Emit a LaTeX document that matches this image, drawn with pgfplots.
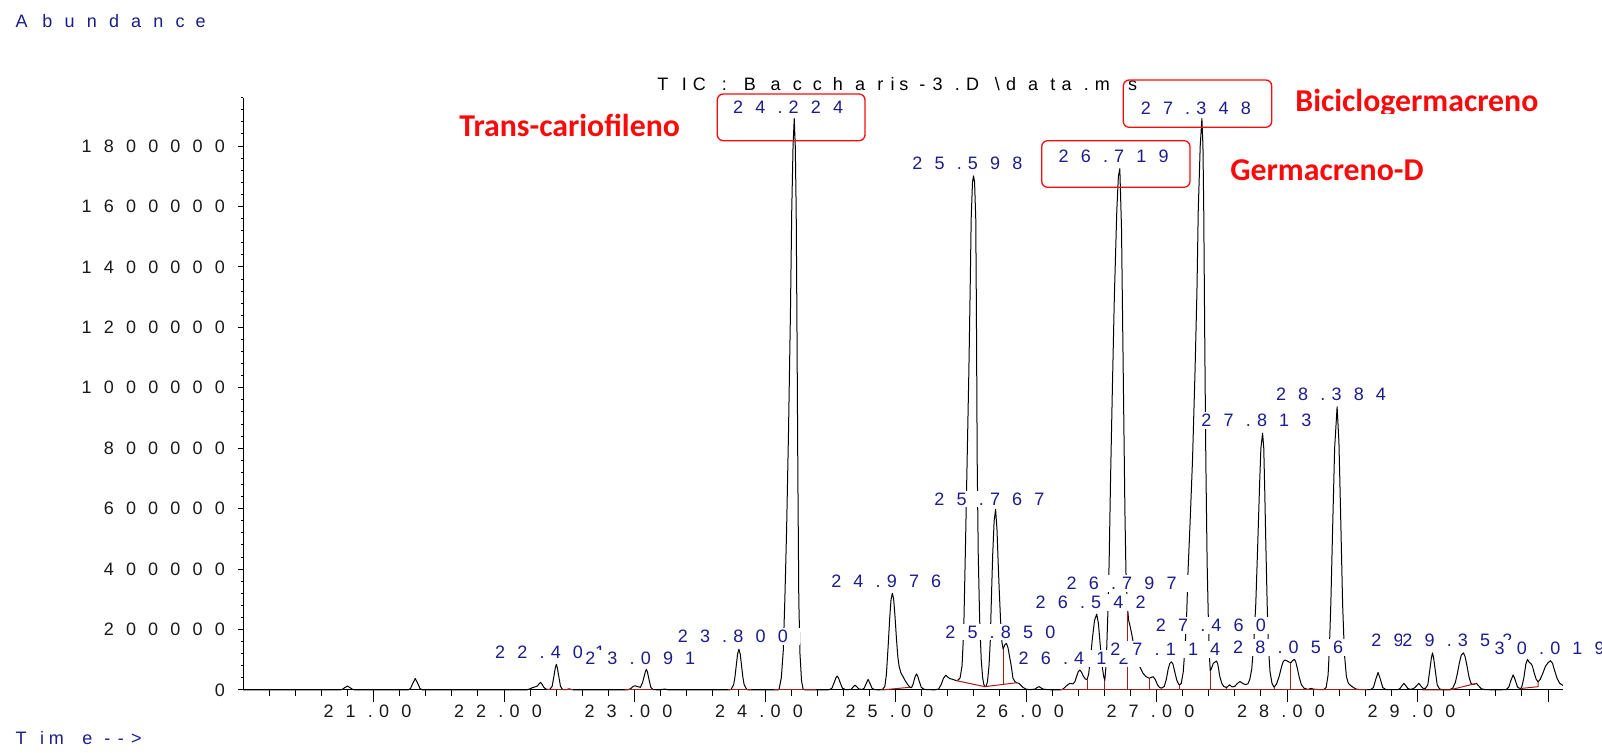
\documentclass[border=0pt]{standalone}
\usepackage{fontspec}
\setmainfont{Liberation Sans}
\newfontfamily\carlito{Carlito}
\usepackage{pgfplots}
\pgfplotsset{compat=1.18}

\definecolor{navy}{RGB}{28,28,140}
\definecolor{intred}{RGB}{170,25,25}
\definecolor{annred}{RGB}{250,10,10}
\definecolor{ticktext}{RGB}{25,25,25}

% letter-spaced text: every character gets a cell 2.22 times its own width
\newlength\spw
\def\spk{2.22}
\def\spacedend{\spacedend}
\def\spaced#1{\spacedloop#1\spacedend}
\def\spacedloop#1{\ifx#1\spacedend\else\settowidth\spw{#1}\makebox[\spk\spw][l]{#1}\expandafter\spacedloop\fi}
\newcommand\lblfont{\fontsize{9pt}{10pt}\selectfont}

\tikzset{pk/.style={font=\lblfont, text=navy, fill=white, inner xsep=0pt, inner ysep=1pt, anchor=base}}

\begin{document}
\begin{tikzpicture}
\useasboundingbox (0,0) rectangle (801pt,376.5pt);
\begin{axis}[
  at={(121.5pt,31.5pt)}, anchor=south west,
  scale only axis, width=660pt, height=296.15pt,
  xmin=20, xmax=30.115, ymin=0, ymax=1960,
  axis x line*=bottom, axis y line*=left,
  axis line style={-, line width=0.5pt, black},
  tick align=outside,
  xtick={21,22,23,24,25,26,27,28,29,30},
  xticklabels={\spaced{21.00},\spaced{22.00},\spaced{23.00},\spaced{24.00},\spaced{25.00},\spaced{26.00},\spaced{27.00},\spaced{28.00},\spaced{29.00},{}},
  minor xtick={20.2,20.4,...,30.0},
  ytick={0,200,...,1800},
  yticklabels={\spaced{0},\spaced{200000},\spaced{400000},\spaced{600000},\spaced{800000},\spaced{1000000},\spaced{1200000},\spaced{1400000},\spaced{1600000},\spaced{1800000}},
  minor ytick={40,80,...,1960},
  xtick style={line width=0.5pt, black, /pgfplots/major tick length=6pt, /pgfplots/minor tick length=3pt},
  ytick style={line width=0.5pt, black, /pgfplots/major tick length=2.5pt, /pgfplots/minor tick length=1.25pt},
  xticklabel style={font=\lblfont, text=ticktext, anchor=north, inner sep=0pt, yshift=-3pt},
  yticklabel style={font=\lblfont, text=ticktext, anchor=east, inner sep=0pt, xshift=1.55pt},
  clip=false,
]
% total ion chromatogram (abundance in thousands of counts)
\addplot[black, line width=0.5pt, line join=round] coordinates {
(20.00,0) (20.74,0) (20.76,1.8) (20.78,7.9) (20.80,13) (20.82,7.9) (20.84,1.8) (20.86,0)
(21.266,0) (21.284,5.1) (21.302,23) (21.32,38) (21.338,23) (21.356,5.1) (21.374,0)
(22.17,0) (22.20,4) (22.22,8) (22.236,10) (22.255,13) (22.268,20) (22.28,25) (22.292,19) (22.305,9) (22.32,3) (22.35,1.5)
(22.369,12) (22.385,52) (22.393,73) (22.401,85) (22.409,73) (22.417,52) (22.433,12) (22.449,1.5) (22.48,1) (22.50,4) (22.52,1) (22.56,0)
(22.94,0) (22.97,4) (22.99,12) (23.005,14) (23.025,11) (23.045,9) (23.062,25) (23.074,45) (23.083,60) (23.091,68) (23.099,60) (23.108,41) (23.125,9) (23.142,1) (23.20,0.5) (23.215,2) (23.23,3) (23.245,2) (23.26,0)
(23.72,0) (23.74,1.5) (23.76,18) (23.77,44) (23.78,82) (23.79,119) (23.80,135) (23.81,119) (23.82,82) (23.83,44) (23.84,18) (23.86,1.5) (23.88,0)
(24.10,0) (24.108,3) (24.125,40) (24.14,130) (24.152,298) (24.165,520) (24.18,850) (24.195,1250) (24.205,1588) (24.215,1800) (24.224,1891) (24.232,1800) (24.239,1588) (24.245,1200) (24.252,700) (24.259,298) (24.268,120) (24.28,30) (24.292,3) (24.31,0)
(24.45,0) (24.493,1) (24.513,6) (24.533,28) (24.543,40) (24.553,46) (24.563,40) (24.573,28) (24.593,6) (24.62,1) (24.66,2) (24.675,10) (24.69,16) (24.705,10) (24.72,3) (24.745,2) (24.76,6) (24.775,21) (24.79,35) (24.805,21) (24.82,6) (24.84,1) (24.88,0.5) (24.90,2)
(24.918,11) (24.93,50) (24.943,140) (24.956,240) (24.966,300) (24.976,320) (24.986,300) (24.996,245) (25.008,165) (25.018,110) (25.028,77) (25.042,56) (25.058,44) (25.075,30) (25.097,16) (25.112,9) (25.123,8)
(25.134,18) (25.143,33) (25.152,46) (25.161,53) (25.170,46) (25.179,33) (25.197,9) (25.22,2) (25.26,1) (25.30,0.5)
(25.33,3) (25.35,18) (25.367,38) (25.385,49) (25.40,43) (25.415,38) (25.44,35) (25.465,31) (25.48,33) (25.495,40) (25.51,80) (25.523,200) (25.535,450) (25.549,761) (25.562,1050) (25.572,1320) (25.58,1560) (25.59,1680) (25.598,1701) (25.606,1680) (25.615,1560) (25.62,1250) (25.626,761) (25.634,450) (25.645,230) (25.657,100) (25.668,40) (25.677,18) (25.685,11)
(25.694,12) (25.705,28) (25.717,82) (25.726,160) (25.736,320) (25.745,450) (25.756,560) (25.767,598) (25.778,529) (25.786,430) (25.795,330) (25.805,232) (25.815,160) (25.825,135) (25.838,150) (25.850,154) (25.862,140) (25.875,108) (25.885,85) (25.90,39) (25.915,28) (25.927,24) (25.947,22) (25.962,15) (25.978,8) (26.00,3) (26.03,1) (26.07,3) (26.085,8) (26.10,11) (26.115,7) (26.13,3) (26.17,1) (26.25,0)
(26.26,0) (26.28,2) (26.297,8) (26.31,14) (26.336,22) (26.36,20) (26.375,28) (26.39,48) (26.40,60) (26.412,66) (26.424,60) (26.44,45) (26.455,36) (26.468,35) (26.48,52) (26.495,110) (26.51,175) (26.525,230) (26.542,251) (26.555,220) (26.57,143) (26.583,80) (26.596,44) (26.604,31)
(26.615,90) (26.627,250) (26.637,420) (26.648,700) (26.662,1000) (26.677,1300) (26.696,1588) (26.708,1700) (26.719,1725) (26.732,1525) (26.745,1055) (26.758,590) (26.766,390) (26.775,290) (26.786,232) (26.797,212) (26.808,190) (26.825,150) (26.847,110) (26.87,78) (26.897,55) (26.92,44) (26.943,39) (26.958,41) (26.974,44) (26.99,35) (27.01,15) (27.025,8) (27.038,6)
(27.06,12) (27.075,35) (27.09,70) (27.102,88) (27.114,93) (27.126,86) (27.14,60) (27.155,33) (27.17,19) (27.179,17)
(27.19,22) (27.205,60) (27.22,150) (27.232,260) (27.242,397) (27.258,560) (27.276,761) (27.295,1050) (27.31,1320) (27.32,1588) (27.335,1800) (27.348,1891) (27.356,1800) (27.362,1588) (27.37,1150) (27.378,761) (27.388,420) (27.398,220) (27.406,110) (27.412,63)
(27.42,70) (27.435,88) (27.45,93) (27.46,96) (27.47,85) (27.485,45) (27.50,22) (27.515,12) (27.536,8) (27.56,17) (27.58,10) (27.60,12) (27.62,22) (27.64,28) (27.66,22) (27.68,18) (27.70,20)
(27.715,35) (27.73,70) (27.745,150) (27.761,287) (27.775,470) (27.79,680) (27.80,800) (27.813,850) (27.822,800) (27.83,650) (27.838,480) (27.848,287) (27.858,140) (27.87,60) (27.885,22) (27.901,9)
(27.92,20) (27.94,45) (27.96,80) (27.972,95) (27.984,99) (27.998,97) (28.012,93) (28.030,90) (28.042,97) (28.056,101) (28.066,95) (28.08,70) (28.095,40) (28.11,18) (28.13,6) (28.16,2) (28.175,4) (28.188,5) (28.20,3) (28.25,1)
(28.28,1) (28.30,8) (28.315,50) (28.325,140) (28.336,287) (28.35,540) (28.365,800) (28.384,937) (28.398,820) (28.41,600) (28.426,287) (28.44,120) (28.455,45) (28.47,22) (28.49,14) (28.51,8) (28.53,3) (28.56,1)
(28.64,1) (28.662,8) (28.68,35) (28.698,58) (28.716,35) (28.734,8) (28.76,1)
(28.85,1) (28.866,5) (28.881,14) (28.896,22) (28.911,14) (28.926,5) (28.945,2) (28.965,4) (28.98,8) (28.995,15) (29.01,22) (29.025,14) (29.04,6)
(29.06,5) (29.079,17) (29.097,75) (29.106,105) (29.115,123) (29.124,105) (29.133,75) (29.151,17) (29.17,3) (29.20,1) (29.245,1)
(29.27,6) (29.29,25) (29.306,55) (29.32,88) (29.335,115) (29.352,123) (29.365,110) (29.38,78) (29.395,42) (29.41,22) (29.425,18) (29.44,20) (29.452,22) (29.465,15) (29.49,4) (29.52,1) (29.60,0.5)
(29.68,1) (29.70,10) (29.717,33) (29.733,50) (29.749,33) (29.766,10) (29.78,6) (29.793,5)
(29.80,12) (29.815,40) (29.83,85) (29.843,101) (29.855,92) (29.868,88) (29.88,80) (29.895,55) (29.91,35) (29.924,27)
(29.94,35) (29.96,55) (29.98,78) (30.00,90) (30.019,97) (30.035,88) (30.05,65) (30.07,38) (30.09,22) (30.115,15)
};
% integration baselines and drop lines
\pgfplotsset{intline/.style={intred, line width=0.5pt, forget plot}}
\addplot[intline] coordinates {(22.33,0) (22.53,0)};
\addplot[intline] coordinates {(22.93,0) (23.14,0)};
\addplot[intline] coordinates {(23.72,0) (23.89,0)};
\addplot[intline] coordinates {(24.07,0) (24.39,0)};
\addplot[intline] coordinates {(24.893,0) (25.112,9)};
\addplot[intline] coordinates {(25.465,31) (25.685,11) (25.927,24)};
\addplot[intline] coordinates {(26.26,0) (28.61,0)};
\addplot[intline] coordinates {(29.04,0) (29.245,0) (29.452,22)};
\addplot[intline] coordinates {(29.793,5) (29.924,11) (29.924,27)};
\addplot[intline] coordinates {(25.825,18.5) (25.825,135)};
\addplot[intline] coordinates {(26.468,0) (26.468,35)};
\addplot[intline] coordinates {(26.604,0) (26.604,31)};
\addplot[intline] coordinates {(26.775,0) (26.775,290)};
\addplot[intline] coordinates {(26.943,0) (26.943,39)};
\addplot[intline] coordinates {(27.179,0) (27.179,17)};
\addplot[intline] coordinates {(27.412,0) (27.412,63)};
\addplot[intline] coordinates {(27.536,0) (27.536,8)};
\addplot[intline] coordinates {(27.901,0) (27.901,9)};
\addplot[intline] coordinates {(28.030,0) (28.030,90)};
% retention-time labels
\node[pk] at (axis cs:22.401,105.2) {\spaced{22.401}};
\node[pk] at (axis cs:23.091,85.4) {\spaced{23.091}};
\node[pk] at (axis cs:23.800,156.8) {\spaced{23.800}};
\node[pk] at (axis cs:24.224,1906.4) {\spaced{24.224}};
\node[pk] at (axis cs:24.976,338.8) {\spaced{24.976}};
\node[pk] at (axis cs:25.598,1723.3) {\spaced{25.598}};
\node[pk] at (axis cs:25.767,611.5) {\spaced{25.767}};
\node[pk] at (axis cs:25.850,171.4) {\spaced{25.850}};
\node[pk] at (axis cs:26.542,269.4) {\spaced{26.542}};
\node[pk] at (axis cs:26.78,331.2) {\spaced{26.797}};
\node[pk] at (axis cs:26.412,83) {\spaced{26.412}};
\node[pk] at (axis cs:26.719,1745) {\spaced{26.719}};
\node[pk] at (axis cs:27.348,1906) {\spaced{27.348}};
\node[pk] at (axis cs:27.464,193.3) {\spaced{27.460}};
\node[pk] at (axis cs:27.114,112.8) {\spaced{27.114}};
\node[pk] at (axis cs:28.056,120.5) {\spaced{28.056}};
\node[pk] at (axis cs:27.813,870.6) {\spaced{27.813}};
\node[pk] at (axis cs:28.384,956.6) {\spaced{28.384}};
\node[pk] at (axis cs:29.115,143.6) {\spaced{29.115}};
\node[pk] at (axis cs:29.352,143.6) {\spaced{29.352}};
\node[pk] at (axis cs:30.06,118.5) {\spaced{30.019}};
\end{axis}
% axis captions and run title
\node[anchor=base west, inner sep=0pt, font=\lblfont, text=navy] at (7.65pt,362.85pt) {\spaced{Abundance}};
\node[anchor=base west, inner sep=0pt, font=\lblfont, text=navy] at (7.65pt,4.2pt) {\spaced{Time-->}};
\node[anchor=base west, inner sep=0pt, font=\lblfont, text=black] at (328.5pt,331pt) {\spaced{TIC:~Baccharis-3.D\textbackslash data.ms}};
% highlighted compounds
\draw[annred, line width=0.65pt, rounded corners=3pt] (358.65pt,306.15pt) rectangle (432.5pt,329.5pt);
\draw[annred, line width=0.65pt, rounded corners=3pt] (561.65pt,312.85pt) rectangle (635.85pt,336.5pt);
\draw[annred, line width=0.65pt, rounded corners=3pt] (520.85pt,282.85pt) rectangle (595pt,306.15pt);
\node[anchor=base west, inner sep=0pt, text=annred, font={\carlito\bfseries\fontsize{15.9pt}{18pt}\selectfont}] at (229.5pt,308.15pt) {Trans-cariofileno};
\begin{scope}
\clip (640pt,319.75pt) rectangle (801pt,345pt);
\node[anchor=base west, inner sep=0pt, text=annred, font={\carlito\bfseries\fontsize{15.9pt}{18pt}\selectfont}] at (647.5pt,320.65pt) {Biciclogermacreno};
\end{scope}
\begin{scope}
\clip (605pt,285.65pt) rectangle (801pt,305pt);
\node[anchor=base west, inner sep=0pt, text=annred, font={\carlito\bfseries\fontsize{15.9pt}{18pt}\selectfont}] at (615pt,286.15pt) {Germacreno-D};
\end{scope}
\end{tikzpicture}
\end{document}
